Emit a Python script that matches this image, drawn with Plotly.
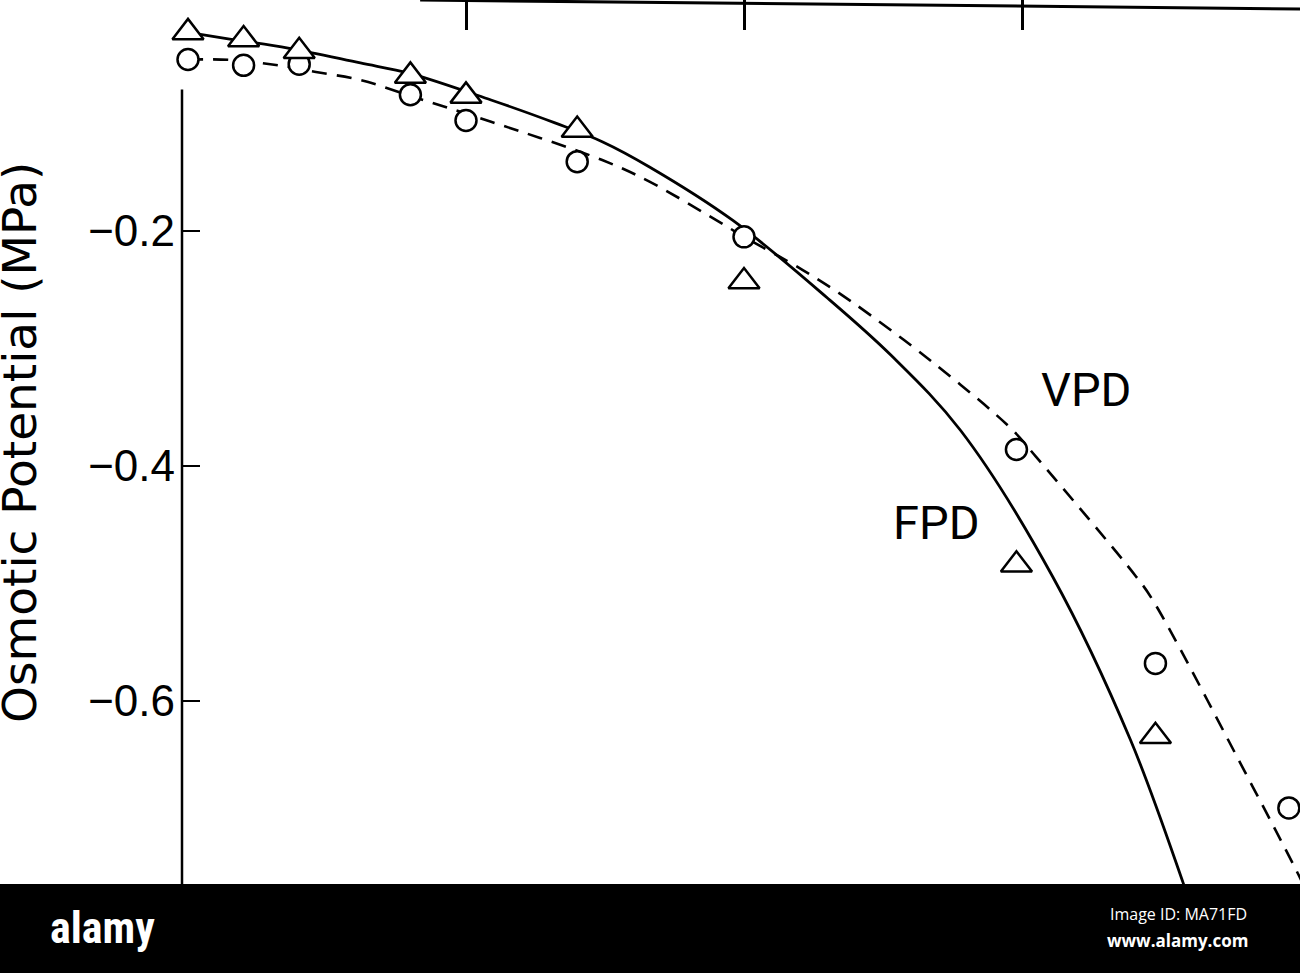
import plotly.graph_objects as go

# ---- data ----
fpd_x = [0.0, 0.2, 0.4, 0.8, 1.0, 1.4, 2.0, 2.98, 3.48]
fpd_y = [-0.031, -0.037, -0.047, -0.068, -0.085, -0.114, -0.243, -0.484, -0.630]

vpd_x = [0.0, 0.2, 0.4, 0.8, 1.0, 1.4, 2.0, 2.98, 3.48, 3.96]
vpd_y = [-0.054, -0.059, -0.058, -0.084, -0.106, -0.141, -0.205, -0.386, -0.568, -0.691]

fpd_curve_x = [0.0, 0.15, 0.36, 0.62, 0.80, 1.09, 1.32, 1.49, 1.66, 1.96, 2.30,
               2.53, 2.78, 3.11, 3.39, 3.58, 3.63]
fpd_curve_y = [-0.031, -0.0366, -0.0443, -0.057, -0.066, -0.0885, -0.108, -0.124, -0.1455,
               -0.191, -0.257, -0.306, -0.370, -0.494, -0.633, -0.755, -0.79]

vpd_curve_x = [0.0, 0.16, 0.34, 0.46, 0.62, 0.80, 1.09, 1.49, 1.66, 1.93, 2.0, 2.21, 2.38,
               2.68, 2.96, 3.05, 3.41, 3.47, 3.83, 3.98, 4.02]
vpd_curve_y = [-0.054, -0.0545, -0.0596, -0.0647, -0.0715, -0.085, -0.107, -0.1396, -0.158,
               -0.195, -0.205, -0.233, -0.259, -0.312, -0.368, -0.392, -0.494, -0.514,
               -0.673, -0.741, -0.76]

y_ticks = [-0.2, -0.4, -0.6]
y_tick_labels = ["\u22120.2", "\u22120.4", "\u22120.6"]
x_ticks = [1, 2, 3]

y_title = "Osmotic Potential (MPa)"
label_vpd = "VPD"
label_fpd = "FPD"

# ---- figure ----
W, H = 1300, 973
L = 182
xmin = -6 / 278
xmax = xmin + (W - L) / 278
ytop = -(0 + 4) / 1175
ybot = -(H + 4) / 1175

fig = go.Figure()

fig.add_trace(go.Scatter(x=fpd_curve_x, y=fpd_curve_y, mode="lines",
                         line=dict(color="black", width=2.8, shape="spline", smoothing=1.0),
                         hoverinfo="skip", showlegend=False))
fig.add_trace(go.Scatter(x=vpd_curve_x, y=vpd_curve_y, mode="lines",
                         line=dict(color="black", width=2.6, dash="15px,10px",
                                   shape="spline", smoothing=1.0),
                         hoverinfo="skip", showlegend=False))
fig.add_trace(go.Scatter(x=vpd_x, y=vpd_y, mode="markers", cliponaxis=False,
                         marker=dict(symbol="circle", size=21, color="white",
                                     line=dict(color="black", width=2.5)),
                         showlegend=False))
fig.add_trace(go.Scatter(x=fpd_x, y=fpd_y, mode="markers", cliponaxis=False,
                         marker=dict(symbol="triangle-up", size=27, color="white",
                                     line=dict(color="black", width=2.5)),
                         showlegend=False))

shapes = [
    # left axis line (starts below the top markers)
    dict(type="line", xref="paper", yref="y", x0=0, x1=0, y0=-0.0795, y1=ybot,
         line=dict(color="black", width=2.5), layer="above"),
    # top axis line (slightly slanted like the scan)
    dict(type="line", xref="x", yref="paper", x0=0.835, x1=xmax, y0=1.0, y1=1 - 9 / H,
         line=dict(color="black", width=3), layer="above"),
    # black band at bottom
    dict(type="rect", xref="paper", yref="paper", x0=-0.2, x1=1.05,
         y0=-0.01, y1=1 - 884 / H, fillcolor="black", line=dict(width=0), layer="above"),
]

annotations = [
    dict(text=y_title, xref="paper", yref="paper", x=(20 - L) / (W - L), y=1 - 443 / H,
         textangle=-90, showarrow=False, xanchor="center", yanchor="middle",
         font=dict(family="DejaVu Sans", size=47, color="black")),
    dict(text=label_vpd, xref="x", yref="y", x=3.23, y=-0.335, showarrow=False,
         font=dict(family="Roboto", size=47, color="black")),
    dict(text=label_fpd, xref="x", yref="y", x=2.69, y=-0.448, showarrow=False,
         font=dict(family="Roboto", size=47, color="black")),
    dict(text="<b>alamy</b>", xref="paper", yref="paper", x=(48 - L) / (W - L), y=1 - 928 / H,
         xanchor="left", yanchor="middle", showarrow=False,
         font=dict(family="Liberation Sans Narrow, Roboto Condensed, Liberation Sans",
                   size=44, color="white")),
    dict(text="Image ID: MA71FD", xref="paper", yref="paper", x=(1249 - L) / (W - L),
         y=1 - 914 / H, xanchor="right", yanchor="middle", showarrow=False,
         font=dict(family="Open Sans", size=16, color="white")),
    dict(text="<b>www.alamy.com</b>", xref="paper", yref="paper", x=(1250 - L) / (W - L),
         y=1 - 940 / H, xanchor="right", yanchor="middle", showarrow=False,
         font=dict(family="Open Sans", size=17, color="white")),
]

fig.update_layout(
    width=W, height=H,
    margin=dict(l=L, r=0, t=0, b=0, pad=0),
    paper_bgcolor="white", plot_bgcolor="white",
    shapes=shapes, annotations=annotations,
    showlegend=False,
    xaxis=dict(range=[xmin, xmax], side="top", showline=False, showgrid=False,
               zeroline=False, ticks="inside", ticklen=30, tickwidth=2.5,
               tickcolor="black", tickvals=x_ticks, showticklabels=False,
               automargin=False, fixedrange=True),
    yaxis=dict(range=[ybot, ytop], showline=False, showgrid=False, zeroline=False,
               ticks="inside", ticklen=18, tickwidth=2, tickcolor="black",
               tickvals=y_ticks, ticktext=y_tick_labels, ticklabelstandoff=6,
               tickfont=dict(family="Liberation Sans", size=44, color="black"),
               automargin=False, fixedrange=True),
)

fig.write_html("out.html", config={"displayModeBar": False},
               post_script="document.body.style.margin='0';document.body.style.overflow='hidden';")
